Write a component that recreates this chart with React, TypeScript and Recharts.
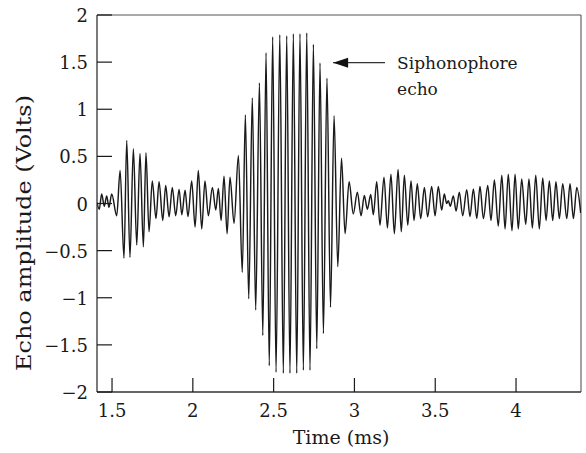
import React from 'react';
import { LineChart, Line, XAxis, YAxis, ReferenceLine, ReferenceDot } from 'recharts';

// Extrema of the recorded echo trace (time in ms, amplitude in volts)
const timeMs = [
  1.407, 1.421, 1.436, 1.452, 1.467, 1.481, 1.498, 1.529, 1.550, 1.574,
  1.591, 1.611, 1.632, 1.653, 1.673, 1.694, 1.710, 1.729, 1.749, 1.772,
  1.791, 1.814, 1.832, 1.853, 1.873, 1.894, 1.915, 1.932, 1.952, 1.970,
  1.993, 2.014, 2.034, 2.055, 2.075, 2.096, 2.121, 2.142, 2.158, 2.175,
  2.193, 2.212, 2.230, 2.255, 2.282, 2.306, 2.325, 2.346, 2.368, 2.389,
  2.412, 2.433, 2.453, 2.473, 2.494, 2.515, 2.538, 2.560, 2.581, 2.601,
  2.622, 2.643, 2.663, 2.684, 2.705, 2.725, 2.746, 2.767, 2.787, 2.808,
  2.830, 2.852, 2.874, 2.897, 2.920, 2.942, 2.967, 2.993, 3.018, 3.041,
  3.061, 3.080, 3.101, 3.117, 3.138, 3.158, 3.183, 3.204, 3.226, 3.247,
  3.270, 3.290, 3.309, 3.330, 3.350, 3.369, 3.389, 3.410, 3.433, 3.453,
  3.478, 3.499, 3.519, 3.540, 3.556, 3.571, 3.581, 3.593, 3.612, 3.629,
  3.649, 3.670, 3.695, 3.715, 3.736, 3.757, 3.777, 3.798, 3.825, 3.845,
  3.866, 3.890, 3.912, 3.932, 3.952, 3.975, 3.994, 4.014, 4.035, 4.060,
  4.080, 4.101, 4.122, 4.144, 4.165, 4.186, 4.206, 4.227, 4.247, 4.268,
  4.289, 4.314, 4.334, 4.355, 4.376, 4.400,
];

const echoVolts = [
  0.01, -0.06, 0.10, -0.03, 0.08, -0.04, 0.10, -0.13, 0.35, -0.58,
  0.67, -0.57, 0.58, -0.44, 0.53, -0.46, 0.54, -0.30, 0.24, -0.16,
  0.23, -0.18, 0.19, -0.14, 0.17, -0.13, 0.15, -0.12, 0.14, -0.14,
  0.24, -0.25, 0.35, -0.27, 0.24, -0.13, 0.17, -0.07, 0.16, -0.18,
  0.29, -0.32, 0.28, -0.21, 0.51, -0.73, 0.94, -1.01, 1.12, -1.13,
  1.28, -1.40, 1.60, -1.72, 1.77, -1.79, 1.79, -1.80, 1.78, -1.80,
  1.80, -1.80, 1.80, -1.77, 1.81, -1.77, 1.69, -1.54, 1.49, -1.38,
  1.33, -1.10, 0.93, -0.67, 0.48, -0.32, 0.23, -0.11, 0.12, -0.13,
  0.085, -0.06, 0.095, -0.12, 0.23, -0.23, 0.28, -0.26, 0.31, -0.32,
  0.36, -0.30, 0.30, -0.23, 0.24, -0.18, 0.21, -0.16, 0.17, -0.14,
  0.18, -0.13, 0.18, -0.07, 0.10, 0.00, 0.03, -0.03, 0.08, -0.08,
  0.12, -0.13, 0.145, -0.14, 0.155, -0.16, 0.18, -0.16, 0.19, -0.18,
  0.25, -0.24, 0.30, -0.27, 0.31, -0.29, 0.31, -0.27, 0.26, -0.22,
  0.26, -0.26, 0.30, -0.27, 0.27, -0.18, 0.24, -0.18, 0.23, -0.16,
  0.21, -0.16, 0.21, -0.16, 0.17, -0.10,
];

const xTicks = [1.5, 2, 2.5, 3, 3.5, 4];
const yTicks = [-2, -1.5, -1, -0.5, 0, 0.5, 1, 1.5, 2];
const xDomain = [1.407, 4.402];
const yDomain = [-2, 2];

const xLabel = 'Time (ms)';
const yLabel = 'Echo amplitude (Volts)';
const noteLines = ['Siphonophore', 'echo'];
const arrowTip = { t: 2.868, v: 1.494 };
const arrowTail = { t: 3.189, v: 1.494 };
const noteAnchor = { t: 3.264, v: 1.43 };

const data = timeMs.map((t, i) => ({ t, v: echoVolts[i] }));

const FONT = '"DejaVu Serif", serif';
const INK = '#1a1a1a';
const fmt = (n: number) => (n < 0 ? '\u2212' + String(-n) : String(n));

const XTick = (props: any) => {
  const { x, y, payload } = props;
  return (
    <g>
      <line x1={x} y1={y} x2={x} y2={y - 14} stroke={INK} strokeWidth={1.2} />
      <text x={x} y={y + 25} textAnchor="middle" fontFamily={FONT} fontSize={18} fill={INK}>
        {fmt(payload.value)}
      </text>
    </g>
  );
};

const YTick = (props: any) => {
  const { x, y, payload } = props;
  return (
    <g>
      <line x1={x} y1={y} x2={x + 15} y2={y} stroke={INK} strokeWidth={1.2} />
      <text x={x - 9} y={y + 7} textAnchor="end" fontFamily={FONT} fontSize={18} fill={INK}>
        {fmt(payload.value)}
      </text>
    </g>
  );
};

export default function App() {
  return (
    <div style={{ position: 'absolute', left: 0, top: 0, width: 586, height: 453, background: '#fff' }}>
      <LineChart width={586} height={453} data={data} margin={{ top: 15, right: 5, bottom: 0, left: 0 }}>
        <XAxis
          dataKey="t"
          type="number"
          domain={xDomain}
          ticks={xTicks}
          interval={0}
          allowDataOverflow
          height={61}
          tickSize={0}
          tickMargin={0}
          tickLine={false}
          axisLine={{ stroke: '#333', strokeWidth: 1.3 }}
          tick={<XTick />}
          label={{
            content: () => (
              <text x={341} y={444} textAnchor="middle" fontFamily={FONT} fontSize={19} fill={INK}>
                {xLabel}
              </text>
            ),
          }}
        />
        <YAxis
          type="number"
          domain={yDomain}
          ticks={yTicks}
          interval={0}
          allowDataOverflow
          width={97}
          tickSize={0}
          tickMargin={0}
          tickLine={false}
          axisLine={{ stroke: '#333', strokeWidth: 1.3 }}
          tick={<YTick />}
          label={{
            content: () => (
              <text
                x={24}
                y={233}
                transform="rotate(-90, 24, 233)"
                textAnchor="middle"
                dominantBaseline="central"
                fontFamily={FONT}
                fontSize={20}
                textLength={276}
                lengthAdjust="spacingAndGlyphs"
                fill={INK}
              >
                {yLabel}
              </text>
            ),
          }}
        />
        <ReferenceLine y={yDomain[1]} stroke="#555" strokeWidth={1.1} />
        <ReferenceLine x={xDomain[1]} stroke="#555" strokeWidth={1.1} />
        <Line
          type="monotone"
          dataKey="v"
          stroke={INK}
          strokeWidth={1.45}
          dot={false}
          isAnimationActive={false}
        />
        <ReferenceLine
          segment={[
            { x: arrowTip.t, y: arrowTip.v },
            { x: arrowTail.t, y: arrowTail.v },
          ]}
          stroke="#333"
          strokeWidth={1.2}
        />
        <ReferenceDot
          x={arrowTip.t}
          y={arrowTip.v}
          r={1}
          shape={(p: any) => (
            <polygon
              points={`${p.cx},${p.cy} ${p.cx + 15},${p.cy - 5} ${p.cx + 15},${p.cy + 5}`}
              fill="#111"
            />
          )}
        />
        <ReferenceDot
          x={noteAnchor.t}
          y={noteAnchor.v}
          r={1}
          shape={(p: any) => (
            <g>
              <text x={p.cx} y={p.cy} fontFamily={FONT} fontSize={17} fill={INK}>
                {noteLines[0]}
              </text>
              <text x={p.cx} y={p.cy + 26} fontFamily={FONT} fontSize={17} fill={INK}>
                {noteLines[1]}
              </text>
            </g>
          )}
        />
      </LineChart>
    </div>
  );
}
